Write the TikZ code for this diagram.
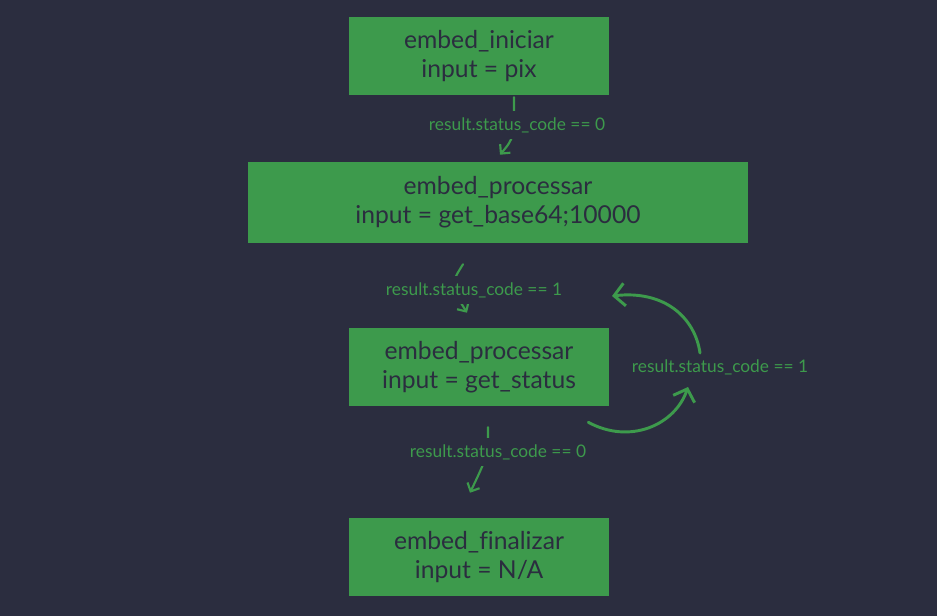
\documentclass[tikz,border=0pt]{standalone}
\usepackage{fontspec}
\setmainfont[Ligatures=NoCommon]{Lato}
\usetikzlibrary{arrows.meta,calc}
\definecolor{bgdark}{HTML}{2B2D3F}
\definecolor{boxgreen}{HTML}{3D9A4C}
\tikzset{
	stepbox/.style={fill=boxgreen, text=bgdark, font=\fontsize{18.5}{22}\selectfont, align=center, inner sep=0pt, minimum width=195pt, minimum height=58.5pt},
	cond/.style={fill=bgdark, text=boxgreen, font=\fontsize{13}{15}\selectfont, inner xsep=2pt, inner ysep=5pt},
	flow/.style={draw=boxgreen, line width=1.6pt, line cap=round, -{Straight Barb[length=5pt,width=10pt,line width=1.6pt]}},
	loopflow/.style={draw=boxgreen, line width=2.2pt, line cap=round, -{Straight Barb[length=8pt,width=17pt,line width=2.2pt]}},
}
\begin{document}
\begin{tikzpicture}[x=0.75pt,y=-0.75pt]
	%%%%% START %%%%%
	
	\fill[bgdark] (0,0) rectangle (937,616);
	
	\node[stepbox] (iniciar) at (479,56) {embed\_iniciar\\input = pix};
	\node[stepbox, minimum width=375pt, minimum height=60.75pt] (processar) at (498,202.5) {embed\_processar\\input = get\_base64;10000};
	\node[stepbox] (status) at (479,367) {embed\_processar\\input = get\_status};
	\node[stepbox] (finalizar) at (479,557) {embed\_finalizar\\input = N/A};
	
	\draw[flow] ($(iniciar.south)+(35,2)$) .. controls (514,138) .. ($(processar.north)+(2,-7)$);
	\node[cond] (c0a) at (517,125) {result.status\_code == 0};
	
	\draw[flow] ($(processar.south)+(-35,21)$) .. controls (450,285) .. ($(status.north)+(-12,-15)$);
	\node[cond] (c1a) at (474,290) {result.status\_code == 1};
	
	\draw[flow] ($(status.south)+(9,21)$) .. controls (488,455) .. ($(finalizar.north)+(-9,-25)$);
	\node[cond] (c0b) at (498,452) {result.status\_code == 0};
	
	\node[cond, inner ysep=2pt] (c1b) at (720,367) {result.status\_code == 1};
	\coordinate (loopin) at ($(c1b)+(-32,20)$);
	\coordinate (loopout) at ($(c1b)+(-20,-14)$);
	\coordinate (loopback) at ($(c1b)+(-108,-71)$);
	
	\draw[loopflow] ($(status.south east)+(-21,16)$) .. controls (630,445) and (675,425) .. (loopin);
	\draw[loopflow] (loopout) .. controls (695,318) and (665,290) .. (loopback);
	
	%%%%% END %%%%%
\end{tikzpicture}
\end{document}
